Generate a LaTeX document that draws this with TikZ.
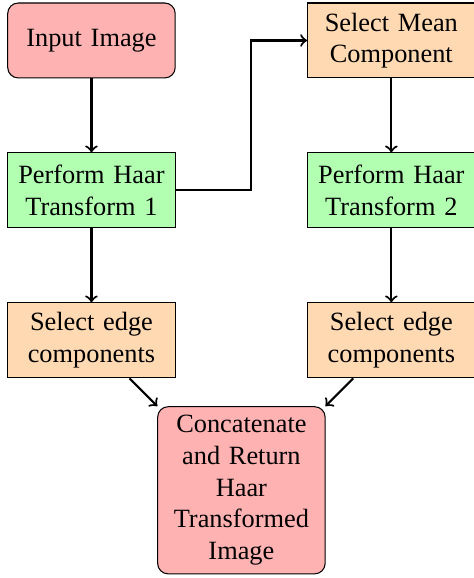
\documentclass[tikz,border=0pt]{standalone}
\usepackage{fontspec}
\setmainfont{Liberation Serif}
\usetikzlibrary{arrows}

\begin{document}
\begin{tikzpicture}[
  startstop/.style={rectangle, rounded corners, minimum height=1cm, text width=2cm, align=center, draw=black, fill=red!30},
  process/.style={rectangle, minimum height=1cm, text width=2cm, align=center, draw=black, fill=green!30},
  choose/.style={rectangle, minimum height=1cm, text width=2cm, align=center, draw=black, fill=orange!30},
  arrow/.style={thick,->,>=to}
]
\useasboundingbox (-1.22,0.54) rectangle (5.1,-7.17);

% Nodes
\node (input) [startstop] at (0,0) {Input Image};
\node (haar1) [process] at (0,-2) {Perform Haar Transform 1};
\node (edge1) [choose] at (0,-4) {Select edge components};
\node (mean) [choose] at (4,0) {Select Mean Component};
\node (haar2) [process] at (4,-2) {Perform Haar Transform 2};
\node (edge2) [choose] at (4,-4) {Select edge components};
\node (concat) [startstop] at (2,-6) {Concatenate and Return Haar Transformed Image};

% Arrows
\draw [arrow] (input) -- (haar1);
\draw [arrow] (haar1) -- (edge1);
\draw [arrow] (haar1.east) -- ++(1,0) |- (mean.west);
\draw [arrow] (mean) -- (haar2);
\draw [arrow] (haar2) -- (edge2);
\draw [arrow] (edge1) -- (concat);
\draw [arrow] (edge2) -- (concat);

\end{tikzpicture}
\end{document}
